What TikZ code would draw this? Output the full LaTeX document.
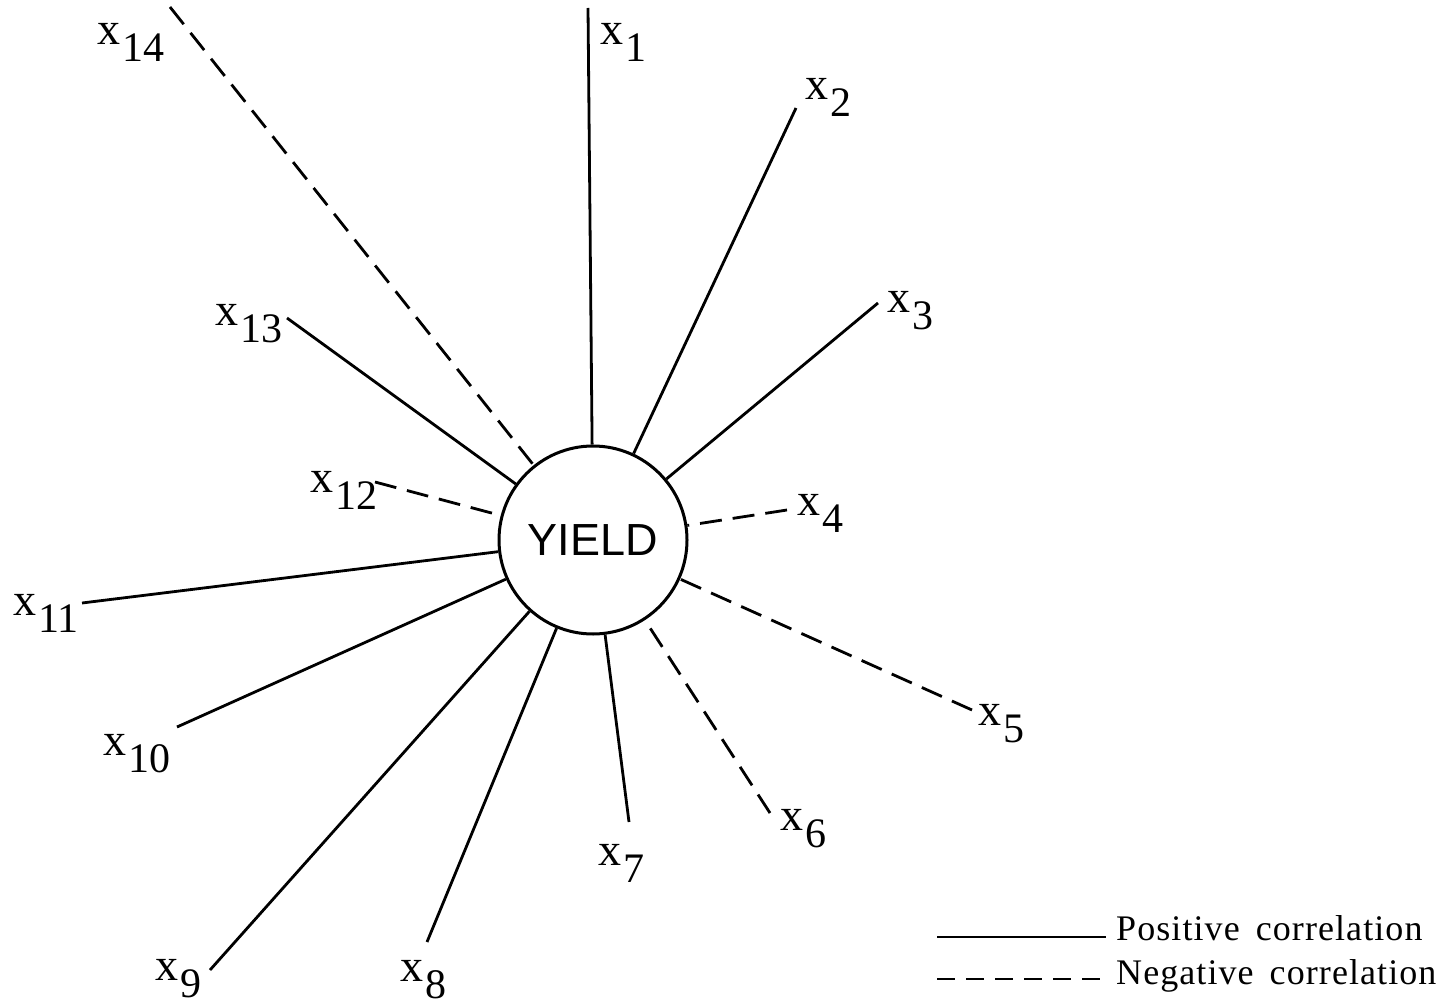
\documentclass[tikz,border=0pt]{standalone}
\usepackage{fontspec}
\setmainfont{Liberation Serif}
\newfontfamily\yieldfont{Liberation Sans}
\newfontfamily\legfont[LetterSpace=3]{Liberation Serif}
\newcommand\xsub[1]{x\kern2pt\raisebox{-17pt}{\fontsize{42}{42}\selectfont #1}}
\tikzset{
  link/.style={line width=2.8pt},
  neglink/.style={line width=2.8pt, dash pattern=on 22pt off 11pt},
  legdash/.style={line width=2.8pt, dash pattern=on 18pt off 11pt},
  lab/.style={anchor=base west, inner sep=0pt, font=\fontsize{46}{46}\selectfont},
  legtext/.style={anchor=base west, inner sep=0pt, font=\legfont\fontsize{36}{36}\selectfont},
  hub/.style={circle, draw, line width=3pt, minimum size=188pt, inner sep=0pt,
              font=\yieldfont\fontsize{45}{45}\selectfont},
}
\begin{document}
\begin{tikzpicture}[x=1pt,y=-1pt]
\useasboundingbox (0,0) rectangle (1455,1008);
\node[hub] (Y) at (593,540) {YIELD};
% labels
\node[lab] (L1)  at (600,45)  {\xsub{1}};
\node[lab] (L2)  at (805,100) {\xsub{2}};
\node[lab] (L3)  at (887,312) {\xsub{3}};
\node[lab] (L4)  at (797,515) {\xsub{4}};
\node[lab] (L5)  at (978,725) {\xsub{5}};
\node[lab] (L6)  at (780,830) {\xsub{6}};
\node[lab] (L7)  at (598,865) {\xsub{7}};
\node[lab] (L8)  at (400,981) {\xsub{8}};
\node[lab] (L9)  at (155,980) {\xsub{9}};
\node[lab] (L10) at (103,755) {\xsub{10}};
\node[lab] (L11) at (13,615)  {\xsub{11}};
\node[lab] (L12) at (310,492) {\xsub{12}};
\node[lab] (L13) at (215,325) {\xsub{13}};
\node[lab] (L14) at (97,45)   {\xsub{14}};
% outer ends of connectors
\coordinate (e1)  at (588,8);
\coordinate (e2)  at (796,108);
\coordinate (e3)  at (878,303);
\coordinate (e4)  at (787,510);
\coordinate (e5)  at (972,710);
\coordinate (e6)  at (770,813);
\coordinate (e7)  at (629,822);
\coordinate (e8)  at (427,942);
\coordinate (e9)  at (210,970);
\coordinate (e10) at (177,727);
\coordinate (e11) at (82,603);
\coordinate (e12) at (375,482);
\coordinate (e13) at (287,318);
\coordinate (e14) at (170,7);
\draw[link]    (e1)  -- (Y);
\draw[link]    (e2)  -- (Y);
\draw[link]    (e3)  -- (Y);
\draw[neglink] (e4)  -- (Y);
\draw[neglink] (e5)  -- (Y);
\draw[neglink] (e6)  -- (Y);
\draw[link]    (e7)  -- (Y);
\draw[link]    (e8)  -- (Y);
\draw[link]    (e9)  -- (Y);
\draw[link]    (e10) -- (Y);
\draw[link]    (e11) -- (Y);
\draw[neglink] (e12) -- (Y);
\draw[link]    (e13) -- (Y);
\draw[neglink] (e14) -- (Y);
% legend
\node[legtext] (pos) at (1116,940) {Positive\hspace{16pt}correlation};
\node[legtext] (neg) at (1116,984) {Negative\hspace{16pt}correlation};
\coordinate (p1) at (937,937);
\coordinate (p2) at (1106,937);
\coordinate (n1) at (937,979);
\coordinate (n2) at (1106,979);
\draw[link] (p1) -- (p2);
\draw[legdash] (n1) -- (n2);
\end{tikzpicture}
\end{document}
